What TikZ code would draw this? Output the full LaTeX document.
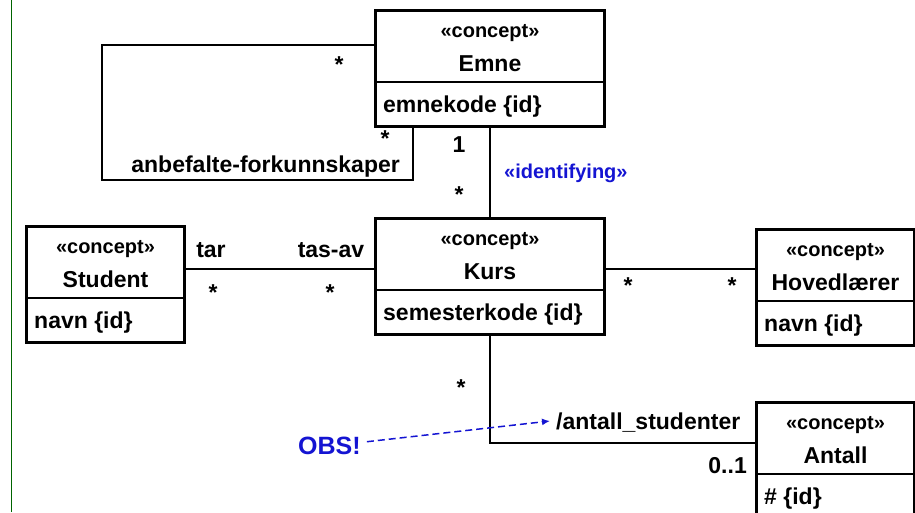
\documentclass[tikz,border=0pt]{standalone}
\usepackage{fontspec}
\setmainfont{Liberation Sans}
\usetikzlibrary{arrows.meta}
\definecolor{umlblue}{RGB}{20,20,210}
\definecolor{edgegreen}{RGB}{0,100,0}
\tikzset{
  classbox/.style={draw, line width=3pt, minimum height=116pt, inner sep=0pt, anchor=north west},
  divider/.style={line width=1.3pt},
  assoc/.style={line width=2.4pt},
  stereo/.style={anchor=base, inner sep=0pt, font=\fontsize{20}{24}\selectfont\bfseries},
  clstitle/.style={anchor=base, inner sep=0pt, font=\fontsize{23}{27}\selectfont\bfseries},
  clsattr/.style={anchor=base west, inner sep=0pt, font=\fontsize{23}{27}\selectfont\bfseries},
  lbl/.style={inner sep=0pt, font=\fontsize{23}{27}\selectfont\bfseries},
  bluelbl/.style={inner sep=0pt, text=umlblue, font=\fontsize{20}{24}\selectfont\bfseries},
  obslbl/.style={inner sep=0pt, text=umlblue, font=\fontsize{25}{29}\selectfont\bfseries},
  obsarrow/.style={umlblue, line width=1.5pt, dash pattern=on 7pt off 4pt, -{Latex[length=8pt,width=7pt]}}
}
\newcommand{\umlclass}[7]{%
  \node[classbox, minimum width=#4pt] (#1) at (#2,#3) {};
  \draw[divider] ([yshift=-73pt]#1.north west) -- ([yshift=-73pt]#1.north east);
  \node[stereo] (#1-st) at ([yshift=-28pt]#1.north) {#5};
  \node[clstitle] (#1-ti) at ([yshift=-62pt]#1.north) {#6};
  \node[clsattr] (#1-at) at ([xshift=9pt,yshift=-103.5pt]#1.north west) {#7};
}
\begin{document}
\begin{tikzpicture}[x=1pt,y=-1pt]
\useasboundingbox (0,0) rectangle (915,512);
\clip (0,0) rectangle (915,512);
% left green rule
\coordinate (gTop) at (11.5,0);
\coordinate (gBot) at (11.5,512);
\draw[edgegreen, line width=1.4pt] (gTop) -- (gBot);
% classes
\umlclass{emne}{374}{9}{229}{«concept»}{Emne}{emnekode \{id\}}
\umlclass{kurs}{374}{217}{229}{«concept»}{Kurs}{semesterkode \{id\}}
\umlclass{student}{25}{225}{158}{«concept»}{Student}{navn \{id\}}
\umlclass{hoved}{755}{228}{158}{«concept»}{Hovedlærer}{navn \{id\}}
\umlclass{antall}{755}{401}{158}{«concept»}{Antall}{\# \{id\}}
% connectors
\coordinate (lpA) at (102,45);
\coordinate (lpB) at (413,180);
\draw[assoc] (lpA -| emne.west) -- (lpA) |- (lpB) -- (lpB |- emne.south);
\draw[assoc] (emne.south) -- (kurs.north);
\coordinate (skY) at (0,269);
\draw[assoc] (skY -| student.east) -- (skY -| kurs.west);
\draw[assoc] (skY -| kurs.east) -- (skY -| hoved.west);
\coordinate (kaY) at (0,443);
\draw[assoc] (kurs.south) |- (kaY -| antall.west);
% labels
\node[lbl, anchor=base] (m1) at (339,72) {*};
\node[lbl, anchor=base] (m2) at (385,146) {*};
\node[lbl, anchor=base east] (anb) at (400,172) {anbefalte-forkunnskaper};
\node[lbl, anchor=base] (one) at (459,152) {1};
\node[lbl, anchor=base] (m3) at (459,202) {*};
\node[bluelbl, anchor=base west] (ident) at (504,178) {«identifying»};
\node[lbl, anchor=base] (tar) at (211,257) {tar};
\node[lbl, anchor=base] (tasav) at (331,257) {tas-av};
\node[lbl, anchor=base] (m4) at (213,300) {*};
\node[lbl, anchor=base] (m5) at (330,300) {*};
\node[lbl, anchor=base] (m6) at (628,293) {*};
\node[lbl, anchor=base] (m7) at (732,293) {*};
\node[lbl, anchor=base] (m8) at (461,395) {*};
\node[lbl, anchor=base west] (antst) at (556,429) {/antall\_studenter};
\node[lbl, anchor=base east] (zo) at (747,473) {0..1};
\node[obslbl, anchor=base west] (obs) at (298,454) {OBS!};
\coordinate (obsT) at (550,421);
\draw[obsarrow, shorten <=6pt] ([yshift=3pt]obs.east) -- (obsT);
\end{tikzpicture}
\end{document}
